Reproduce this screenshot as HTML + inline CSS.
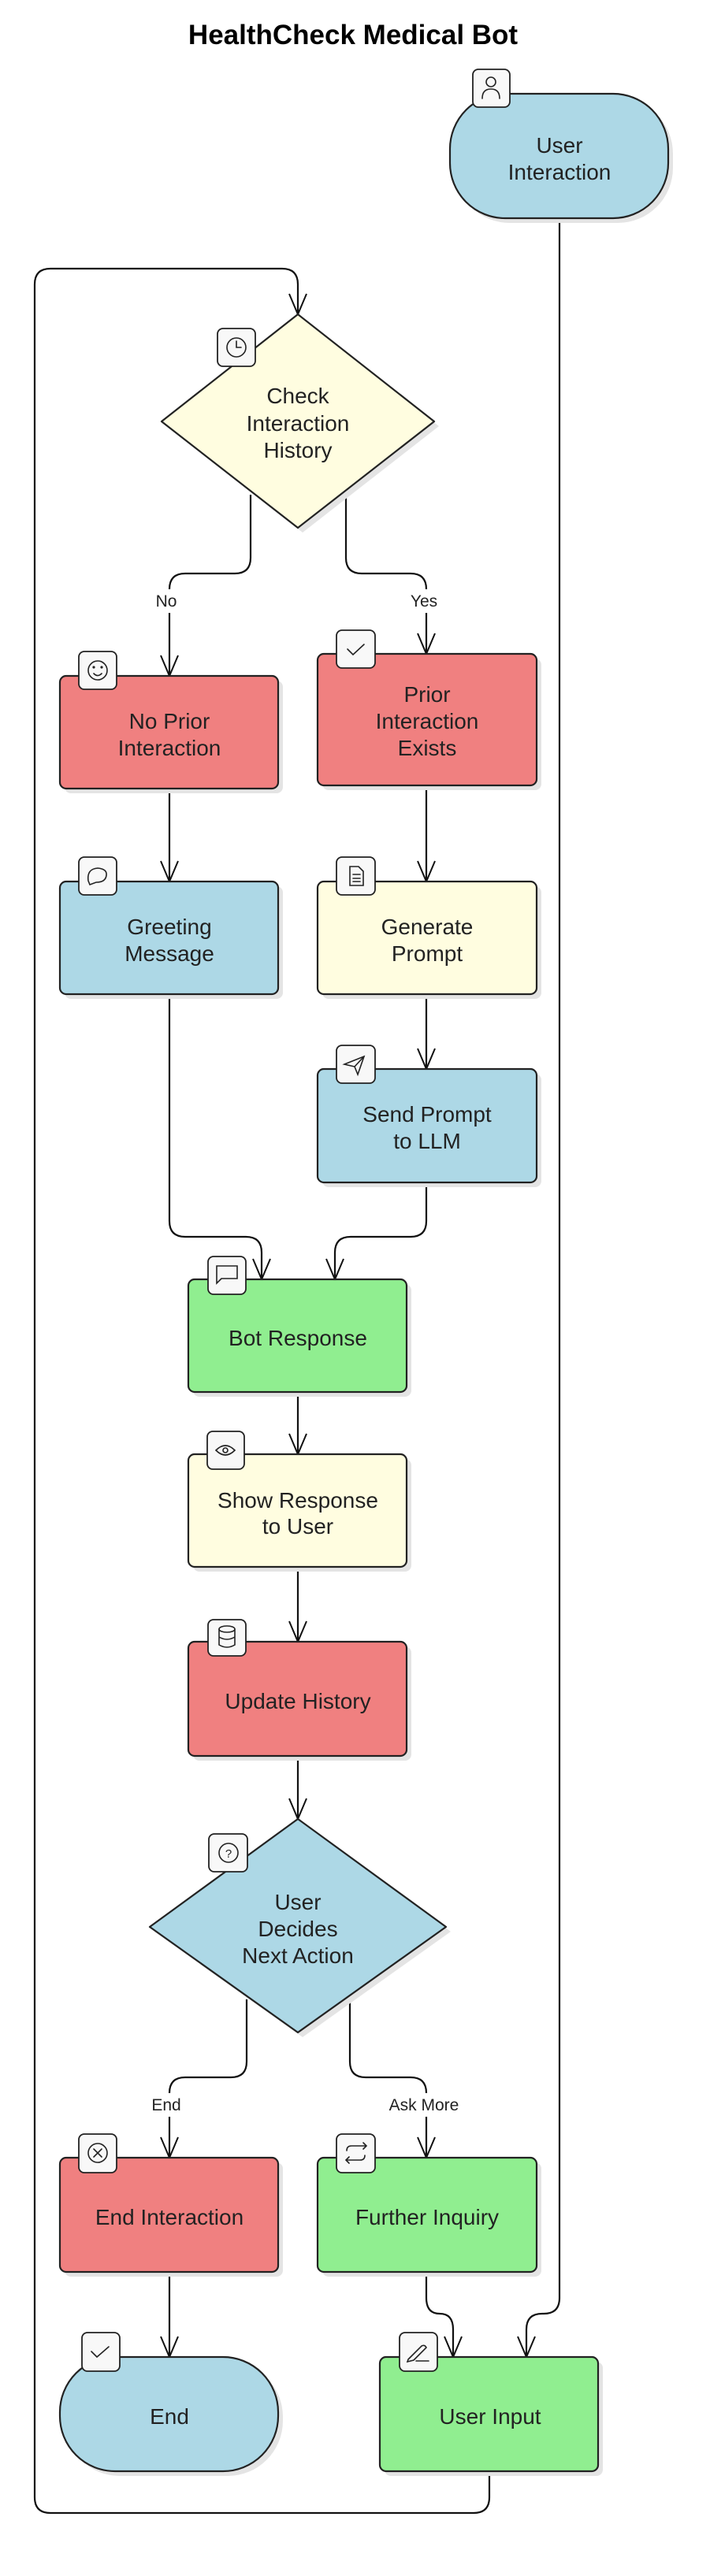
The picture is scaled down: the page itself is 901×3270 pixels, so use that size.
<!DOCTYPE html>
<html><head><meta charset="utf-8"><style>
html,body{margin:0;padding:0;background:#fff;}
svg{display:block;}
text{font-family:"Liberation Sans",sans-serif;fill:#222;}
</style></head><body>
<svg width="901" height="3270" viewBox="0 0 901 3270" xmlns="http://www.w3.org/2000/svg">
<defs>
<g id="ah"><path d="M-11 -26 L0 0 L11 -26" fill="none" stroke="#111" stroke-width="2"/></g>
</defs>
<text x="448" y="56" text-anchor="middle" font-size="35" font-weight="bold" style="fill:#000">HealthCheck Medical Bot</text>

<!-- connectors -->
<g fill="none" stroke="#111" stroke-width="2.2">
<path d="M710 277 V2917 Q710 2937 690 2937 H688 Q668 2937 668 2957 V2992"/>
<path d="M621 3137 V3170 Q621 3190 601 3190 H64 Q44 3190 44 3170 V361 Q44 341 64 341 H358 Q378 341 378 361 V399"/>
<path d="M318 628 V708 Q318 728 298 728 H235 Q215 728 215 748 V858"/>
<path d="M439 628 V708 Q439 728 459 728 H521 Q541 728 541 748 V830"/>
<path d="M215 1001 V1119 M541 997 V1119 M541 1262 V1357"/>
<path d="M215 1262 V1550 Q215 1570 235 1570 H312 Q332 1570 332 1590 V1624"/>
<path d="M541 1501 V1550 Q541 1570 521 1570 H445 Q425 1570 425 1590 V1624"/>
<path d="M378 1767 V1846 M378 1989 V2084 M378 2229 V2309"/>
<path d="M313 2538 V2617 Q313 2637 293 2637 H235 Q215 2637 215 2657 V2739"/>
<path d="M444 2538 V2617 Q444 2637 464 2637 H521 Q541 2637 541 2657 V2739"/>
<path d="M215 2884 V2992"/>
<path d="M541 2884 V2917 Q541 2937 558 2937 Q575 2937 575 2957 V2992"/>
</g>
<use href="#ah" x="378" y="399"/><use href="#ah" x="215" y="858"/><use href="#ah" x="541" y="830"/>
<use href="#ah" x="215" y="1119"/><use href="#ah" x="541" y="1119"/><use href="#ah" x="541" y="1357"/>
<use href="#ah" x="332" y="1624"/><use href="#ah" x="425" y="1624"/><use href="#ah" x="378" y="1846"/>
<use href="#ah" x="378" y="2084"/><use href="#ah" x="378" y="2309"/><use href="#ah" x="215" y="2739"/>
<use href="#ah" x="541" y="2739"/><use href="#ah" x="215" y="2992"/><use href="#ah" x="575" y="2992"/>
<use href="#ah" x="668" y="2992"/>

<!-- edge labels -->
<rect x="190" y="748" width="50" height="30" fill="#fff"/><text x="211" y="770" text-anchor="middle" font-size="21">No</text>
<rect x="510" y="748" width="60" height="30" fill="#fff"/><text x="538" y="770" text-anchor="middle" font-size="21">Yes</text>
<rect x="185" y="2657" width="60" height="30" fill="#fff"/><text x="211" y="2679" text-anchor="middle" font-size="21">End</text>
<rect x="480" y="2657" width="120" height="30" fill="#fff"/><text x="538" y="2679" text-anchor="middle" font-size="21">Ask More</text>

<!-- shadows -->
<g fill="#e4e4e4">
<rect x="577" y="125" width="277" height="158" rx="70"/>
<polygon points="384,405 557,541 384,676 211,541"/>
<rect x="82" y="864" width="277" height="143" rx="8"/>
<rect x="409" y="836" width="278" height="167" rx="8"/>
<rect x="82" y="1125" width="277" height="143" rx="8"/>
<rect x="409" y="1125" width="278" height="143" rx="8"/>
<rect x="409" y="1363" width="278" height="144" rx="8"/>
<rect x="245" y="1630" width="277" height="143" rx="8"/>
<rect x="245" y="1852" width="277" height="143" rx="8"/>
<rect x="245" y="2090" width="277" height="145" rx="8"/>
<polygon points="384,2315 572,2452 384,2586 196,2452"/>
<rect x="82" y="2745" width="277" height="145" rx="8"/>
<rect x="409" y="2745" width="278" height="145" rx="8"/>
<rect x="82" y="2998" width="277" height="145" rx="70"/>
<rect x="488" y="2998" width="277" height="145" rx="8"/>
</g>

<!-- nodes -->
<g stroke="#222" stroke-width="2.2">
<rect x="571" y="119" width="277" height="158" rx="70" fill="#ADD8E6"/>
<polygon points="378,399 551,535 378,670 205,535" fill="#FFFDE0" stroke-linejoin="round"/>
<rect x="76" y="858" width="277" height="143" rx="8" fill="#F08080"/>
<rect x="403" y="830" width="278" height="167" rx="8" fill="#F08080"/>
<rect x="76" y="1119" width="277" height="143" rx="8" fill="#ADD8E6"/>
<rect x="403" y="1119" width="278" height="143" rx="8" fill="#FFFDE0"/>
<rect x="403" y="1357" width="278" height="144" rx="8" fill="#ADD8E6"/>
<rect x="239" y="1624" width="277" height="143" rx="8" fill="#90EE90"/>
<rect x="239" y="1846" width="277" height="143" rx="8" fill="#FFFDE0"/>
<rect x="239" y="2084" width="277" height="145" rx="8" fill="#F08080"/>
<polygon points="378,2309 566,2446 378,2580 190,2446" fill="#ADD8E6" stroke-linejoin="round"/>
<rect x="76" y="2739" width="277" height="145" rx="8" fill="#F08080"/>
<rect x="403" y="2739" width="278" height="145" rx="8" fill="#90EE90"/>
<rect x="76" y="2992" width="277" height="145" rx="70" fill="#ADD8E6"/>
<rect x="482" y="2992" width="277" height="145" rx="8" fill="#90EE90"/>
</g>

<!-- node text -->
<g font-size="28" text-anchor="middle">
<text x="710" y="194">User</text><text x="710" y="228">Interaction</text>
<text x="378" y="512">Check</text><text x="378" y="547">Interaction</text><text x="378" y="581">History</text>
<text x="215" y="925">No Prior</text><text x="215" y="959">Interaction</text>
<text x="542" y="891">Prior</text><text x="542" y="925">Interaction</text><text x="542" y="959">Exists</text>
<text x="215" y="1186">Greeting</text><text x="215" y="1220">Message</text>
<text x="542" y="1186">Generate</text><text x="542" y="1220">Prompt</text>
<text x="542" y="1424">Send Prompt</text><text x="542" y="1458">to LLM</text>
<text x="378" y="1708">Bot Response</text>
<text x="378" y="1914">Show Response</text><text x="378" y="1947">to User</text>
<text x="378" y="2169">Update History</text>
<text x="378" y="2424">User</text><text x="378" y="2458">Decides</text><text x="378" y="2492">Next Action</text>
<text x="215" y="2824">End Interaction</text>
<text x="542" y="2824">Further Inquiry</text>
<text x="215" y="3077">End</text>
<text x="622" y="3077">User Input</text>
</g>

<!-- icon boxes -->
<g stroke="#222" stroke-width="1.8" fill="#f8f8f8">
<rect x="600" y="88" width="47" height="48" rx="7"/>
<rect x="276" y="417" width="48" height="48" rx="7"/>
<rect x="100" y="827" width="48" height="48" rx="7"/>
<rect x="427" y="800" width="49" height="48" rx="7"/>
<rect x="100" y="1088" width="48" height="48" rx="7"/>
<rect x="427" y="1088" width="49" height="48" rx="7"/>
<rect x="427" y="1327" width="49" height="48" rx="7"/>
<rect x="264" y="1595" width="48" height="48" rx="7"/>
<rect x="263" y="1817" width="47" height="48" rx="7"/>
<rect x="264" y="2056" width="48" height="46" rx="7"/>
<rect x="265" y="2328" width="49" height="48" rx="7"/>
<rect x="100" y="2709" width="48" height="49" rx="7"/>
<rect x="427" y="2709" width="49" height="49" rx="7"/>
<rect x="104" y="2961" width="48" height="49" rx="7"/>
<rect x="507" y="2961" width="48" height="49" rx="7"/>
</g>
<!-- icon glyphs -->
<g stroke="#222" stroke-width="1.6" fill="none" stroke-linecap="round">
<circle cx="623" cy="104" r="6"/><path d="M612 125 Q612 113 623 113 Q634 113 634 125"/>
<circle cx="300" cy="441" r="12"/><path d="M300 433 V441 H306"/>
<circle cx="124" cy="851" r="12"/><path d="M119 855 Q124 860 129 855"/><circle cx="119" cy="847" r="0.8"/><circle cx="129" cy="847" r="0.8"/>
<path d="M441 824 L448 831 L462 818"/>
<path d="M114 1123 L112 1118 Q110 1103 124 1102 Q136 1103 135 1111 Q134 1120 122 1120 Z"/>
<path d="M444 1100 H455 L461 1106 V1124 H444 Z M448 1110 H457 M448 1115 H457 M448 1119 H457"/>
<path d="M437 1351 L462 1341 L454 1364 L450 1354 Z M450 1354 L462 1341"/>
<path d="M275 1607 H301 V1623 H281 L275 1629 Z"/>
<path d="M274 1841 Q286 1829 298 1841 Q286 1853 274 1841 Z"/><circle cx="286" cy="1841" r="3"/>
<ellipse cx="288" cy="2068" rx="10" ry="4"/><path d="M278 2068 V2088 Q288 2094 298 2088 V2068 M278 2078 Q288 2084 298 2078"/>
<circle cx="290" cy="2352" r="12"/><text x="290" y="2358" font-size="15" text-anchor="middle" stroke="none">?</text>
<circle cx="124" cy="2733" r="12"/><path d="M119 2728 L129 2738 M129 2728 L119 2738"/>
<path d="M440 2730 Q440 2724 446 2724 H465 M461 2720 L465 2724 L461 2728 M463 2736 Q463 2742 457 2742 H439 M443 2738 L439 2742 L443 2746"/>
<path d="M116 2985 L123 2992 L138 2979"/>
<path d="M518 2995 L535 2978 Q539 2976 541 2980 L525 2996 L517 2998 Z M528 2997 H544"/>
</g>
</svg>
</body></html>
